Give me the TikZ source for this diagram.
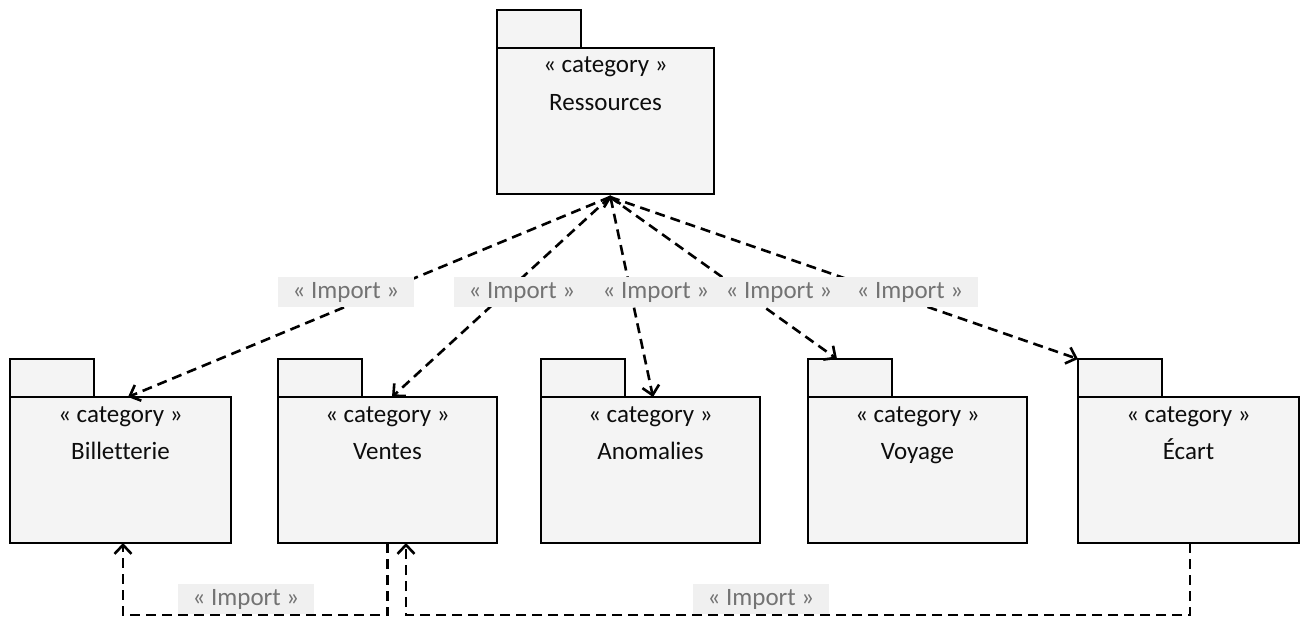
\documentclass[tikz,border=0pt]{standalone}
\usepackage{fontspec}
\setmainfont{Carlito}[Ligatures=NoCommon]
\usetikzlibrary{arrows.meta,calc}

\definecolor{pkgfill}{gray}{0.955}
\definecolor{lblfill}{gray}{0.94}
\definecolor{lbltext}{gray}{0.45}

\tikzset{
  body/.style={draw=black, line width=1.8pt, fill=pkgfill, minimum height=146pt,
               inner sep=0pt, outer sep=0pt},
  tab/.style={draw=black, line width=1.8pt, fill=pkgfill, minimum width=84pt,
              minimum height=38pt, inner sep=0pt, outer sep=0pt},
  title/.style={anchor=base, font=\fontsize{25}{30}\selectfont, text=black!95, inner sep=0pt},
  imp/.style={line width=2.6pt, dash pattern=on 10pt off 6pt},
  head/.style={-{Straight Barb[length=9pt,width=17pt]}},
  bothheads/.style={{Straight Barb[length=9pt,width=17pt]}-{Straight Barb[length=9pt,width=17pt]}},
  implbl/.style={anchor=base, fill=lblfill, text=lbltext, font=\fontsize{25}{30}\selectfont,
                 inner xsep=15pt, inner ysep=5pt}
}

% package: name, left x, top y of the body, body width, title
\newcommand\umlpkg[5]{%
  \node[body, minimum width=#4pt, anchor=north west] (#1) at (#2,#3) {};
  \node[tab, anchor=south west] (#1-tab) at (#1.north west) {};
  \node[title] (#1-st) at ($(#1.north)+(0,25)$) {« category »};
  \node[title] (#1-nm) at ($(#1.north)+(0,62)$) {#5};
}

\begin{document}
\begin{tikzpicture}[x=1pt, y=-1pt]
  \path[use as bounding box] (0,0) rectangle (1303,618);

  % packages
  \umlpkg{res}{497}{48}{217}{Ressources}
  \umlpkg{bil}{10}{397}{221}{Billetterie}
  \umlpkg{ven}{278}{397}{219}{Ventes}
  \umlpkg{ano}{541}{397}{219}{Anomalies}
  \umlpkg{voy}{808}{397}{219}{Voyage}
  \umlpkg{eca}{1078}{397}{221}{Écart}

  % imports of the central package
  \coordinate (hub) at ($(res.south)+(4.5,3)$);
  \coordinate (low) at (0,615);

  \draw[imp, head] (hub) -- ([xshift=7.5pt]bil.north);
  \draw[imp, head] (hub) -- ([xshift=4.5pt]ven.north);
  \draw[imp, bothheads] ($(res.south)+(4.5,1)$) -- ([xshift=2.5pt]ano.north);
  \draw[imp, head] (hub) -- ([xshift=-13pt]voy-tab.north);
  \draw[imp, head] (hub) -- (eca-tab.north west);

  % imports along the bottom
  \draw[imp, head] (ven.south) -- (ven.south |- low) -| ([xshift=2.5pt]bil.south);
  \draw[imp, head] ([xshift=1.5pt]eca.south) -- ([xshift=1.5pt]eca.south |- low)
        -| ([xshift=18.5pt]ven.south);

  % connector labels
  \node[implbl] (l1) at (346,298) {« Import »};
  \node[implbl] (l2) at (522,298) {« Import »};
  \node[implbl] (l3) at (656,298) {« Import »};
  \node[implbl] (l4) at (779,298) {« Import »};
  \node[implbl] (l5) at (910,298) {« Import »};
  \node[implbl] (l6) at (246,605) {« Import »};
  \node[implbl] (l7) at (761,605) {« Import »};
\end{tikzpicture}
\end{document}
